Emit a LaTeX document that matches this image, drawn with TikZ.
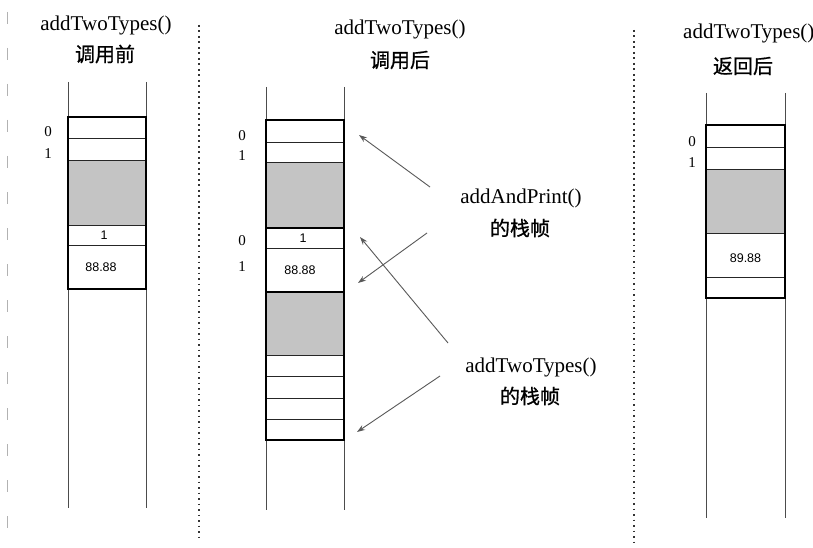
\documentclass[tikz,border=0pt]{standalone}
\usepackage{fontspec}
\setmainfont{Liberation Serif}
\newfontfamily\cjk[FakeBold=0.8]{Noto Sans CJK SC}
\newfontfamily\numsans{Liberation Sans}
\usetikzlibrary{arrows.meta}
\tikzset{
  cell/.style={draw=black!85, line width=0.9pt, minimum width=78pt, inner sep=0pt, outer sep=0pt, anchor=north west},
  shade/.style={fill=black!23},
  frame/.style={draw=black, line width=1.8pt},
  column/.style={draw=black!70, line width=0.9pt},
  divider/.style={draw=black!80, line width=1.7pt, dash pattern=on 1.7pt off 3.8pt},
  title/.style={font=\fontsize{21}{24}\selectfont, inner sep=0pt},
  ctitle/.style={font=\cjk\fontsize{20}{23}\selectfont, inner sep=0pt},
  idx/.style={font=\fontsize{15}{17}\selectfont, inner sep=0pt},
  val/.style={font=\numsans\fontsize{12.5}{14}\selectfont, inner sep=0pt},
  pointer/.style={draw=black!65, line width=0.9pt, -{Stealth[length=8pt,width=5.5pt]}},
}
\begin{document}
\begin{tikzpicture}[x=1pt,y=-1pt]
\useasboundingbox (0,0) rectangle (813,548);
\fill[white] (0,0) rectangle (813,548);

% faint edge line
\draw[black!30, line width=0.8pt, dash pattern=on 12pt off 24pt] (7,12) -- (7,535);

% dividers
\draw[divider] (199,25) -- (199,540);
\draw[divider] (634,30) -- (634,545);

% ================= Panel 1 =================
\node[title] (t1) at (106,25) {addTwoTypes()};
\node[ctitle] (c1) at (105,54) {调用前};
\draw[column] (68,82) -- (68,508);
\draw[column] (146,82) -- (146,508);
\node[cell, minimum height=21pt] (a1) at (68,117) {};
\node[cell, minimum height=22pt] (a2) at (68,138) {};
\node[cell, shade, minimum height=65pt] (a3) at (68,160) {};
\node[cell, minimum height=20pt] (a4) at (68,225) {};
\node[cell, minimum height=44pt] (a5) at (68,245) {};
\draw[frame] (68,117) rectangle (146,289);
\node[val] at ([xshift=-3pt]a4.center) {1};
\node[val] at ([xshift=-6pt]a5.center) {88.88};
\node[idx] (a0l) at (48,132) {0};
\node[idx] (a1l) at (48,154) {1};

% ================= Panel 2 =================
\node[title] (t2) at (400,29) {addTwoTypes()};
\node[ctitle] (c2) at (400,60) {调用后};
\draw[column] (266,87) -- (266,510);
\draw[column] (344,87) -- (344,510);
\node[cell, minimum height=22pt] (b1) at (266,120) {};
\node[cell, minimum height=20pt] (b2) at (266,142) {};
\node[cell, shade, minimum height=66pt] (b3) at (266,162) {};
\node[cell, minimum height=20pt] (b4) at (266,228) {};
\node[cell, minimum height=44pt] (b5) at (266,248) {};
\node[cell, shade, minimum height=63pt] (b6) at (266,292) {};
\node[cell, minimum height=21pt] (b7) at (266,355) {};
\node[cell, minimum height=22pt] (b8) at (266,376) {};
\node[cell, minimum height=21pt] (b9) at (266,398) {};
\node[cell, minimum height=21pt] (b10) at (266,419) {};
\draw[frame] (266,120) rectangle (344,228);
\draw[frame] (266,228) rectangle (344,292);
\draw[frame] (266,292) rectangle (344,440);
\node[val] at ([xshift=-2pt]b4.center) {1};
\node[val] at ([xshift=-5pt]b5.center) {88.88};
\node[idx] (b0l) at (242,136) {0};
\node[idx] (b1l) at (242,156) {1};
\node[idx] (b2l) at (242,241) {0};
\node[idx] (b3l) at (242,267) {1};

% labels and pointers
\node[title] (lap) at (521,198) {addAndPrint()};
\node[ctitle] (lapc) at (520,228) {的栈帧};
\node[title] (ltt) at (531,367) {addTwoTypes()};
\node[ctitle] (lttc) at (530,396) {的栈帧};

\coordinate (s1) at (430,187);
\coordinate (e1) at (359,135);
\coordinate (s2) at (427,233);
\coordinate (e2) at (358,283);
\coordinate (s3) at (448,343);
\coordinate (e3) at (360,237);
\coordinate (s4) at (440,376);
\coordinate (e4) at (357,432);
\draw[pointer] (s1) -- (e1);
\draw[pointer] (s2) -- (e2);
\draw[pointer] (s3) -- (e3);
\draw[pointer] (s4) -- (e4);

% ================= Panel 3 =================
\node[title, anchor=west] (t3) at (683,33) {addTwoTypes()};
\node[ctitle] (c3) at (743,66) {返回后};
\draw[column] (706,93) -- (706,518);
\draw[column] (785,93) -- (785,518);
\node[cell, minimum width=79pt, minimum height=22pt] (d1) at (706,125) {};
\node[cell, minimum width=79pt, minimum height=22pt] (d2) at (706,147) {};
\node[cell, shade, minimum width=79pt, minimum height=64pt] (d3) at (706,169) {};
\node[cell, minimum width=79pt, minimum height=44pt] (d4) at (706,233) {};
\node[cell, minimum width=79pt, minimum height=21pt] (d5) at (706,277) {};
\draw[frame] (706,125) rectangle (785,298);
\node[val] at ([yshift=-3pt]d4.center) {89.88};
\node[idx] (d0l) at (692,142) {0};
\node[idx] (d1l) at (692,163) {1};
\end{tikzpicture}
\end{document}
